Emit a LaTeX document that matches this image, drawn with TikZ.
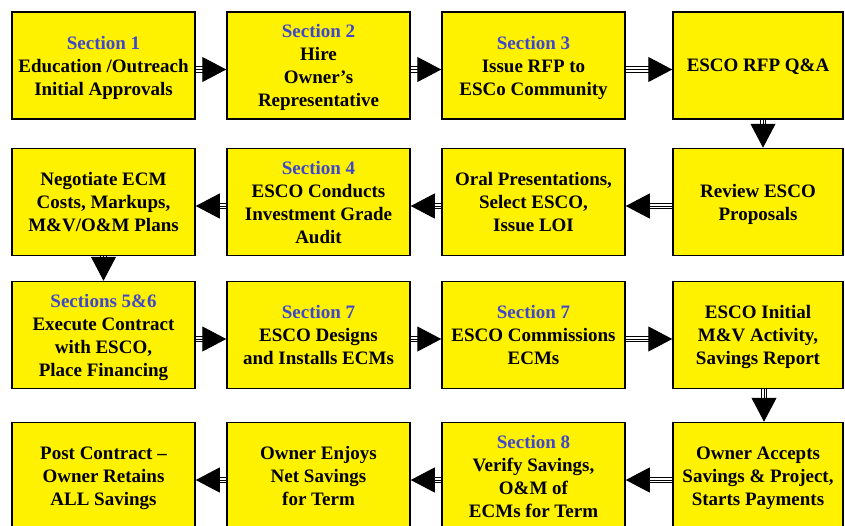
\documentclass[tikz,border=0pt]{standalone}
\usepackage{fontspec}
\setmainfont{Liberation Serif}
\usepackage{xcolor}
\usetikzlibrary{arrows.meta, calc}

\definecolor{secblue}{RGB}{63,72,204}

\tikzset{
  box/.style={draw=black, line width=1.5pt, fill=yellow, minimum width=183pt,
    minimum height=107pt, inner sep=0pt, align=center, text depth=0pt,
    font=\fontsize{19}{23}\selectfont\bfseries},
  narrow/.style={minimum width=170pt},
  shaft/.style={draw=black, double=white, double distance=4.4pt, line width=1pt, shorten >=18pt},
  tip/.style={draw=black, line width=1pt, -{Triangle[length=24pt,width=25pt]}}
}

\begin{document}
\begin{tikzpicture}[x=1pt, y=-1pt]
\useasboundingbox (0,0) rectangle (845,525);

% Row 1
\node[box] (edu) at (103.5,65.5) {\textcolor{secblue}{Section 1}\\Education /Outreach\\Initial Approvals};
\node[box] (hire) at (318.5,65.5) {\textcolor{secblue}{Section 2}\\Hire\\Owner’s\\Representative};
\node[box] (rfp) at (533.5,65.5) {\textcolor{secblue}{Section 3}\\Issue RFP to\\ESCo Community};
\node[box, narrow] (qna) at (758,65.5) {ESCO RFP Q\&A};

% Row 2
\node[box] (negotiate) at (103.5,202) {Negotiate ECM\\Costs, Markups,\\M\&V/O\&M Plans};
\node[box] (audit) at (318.5,202) {\textcolor{secblue}{Section 4}\\ESCO Conducts\\Investment Grade\\Audit};
\node[box] (oral) at (533.5,202) {Oral Presentations,\\Select ESCO,\\Issue LOI};
\node[box, narrow] (review) at (758,202) {Review ESCO\\Proposals};

% Row 3
\node[box] (execute) at (103.5,335) {\textcolor{secblue}{Sections 5\&6}\\Execute Contract\\with ESCO,\\Place Financing};
\node[box] (install) at (318.5,335) {\textcolor{secblue}{Section 7}\\ESCO Designs\\and Installs ECMs};
\node[box] (commission) at (533.5,335) {\textcolor{secblue}{Section 7}\\ESCO Commissions\\ECMs};
\node[box, narrow] (mv) at (758,335) {ESCO Initial\\M\&V Activity,\\Savings Report};

% Row 4
\node[box] (post) at (103.5,476) {Post Contract –\\Owner Retains\\ALL Savings};
\node[box] (enjoy) at (318.5,476) {Owner Enjoys\\Net Savings\\for Term};
\node[box] (verify) at (533.5,476) {\textcolor{secblue}{Section 8}\\Verify Savings,\\O\&M of\\ECMs for Term};
\node[box, narrow] (accept) at (758,476) {Owner Accepts\\Savings \& Project,\\Starts Payments};

% Arrows to the right
\foreach \a/\b in {edu/hire, hire/rfp, rfp/qna, execute/install, install/commission, commission/mv} {
  \draw[shaft] ([yshift=-4pt]\a.east) -- ([yshift=-4pt]\b.west);
  \draw[tip] ([yshift=-4pt]\a.east) -- ([yshift=-4pt]\b.west);
}

% Arrows to the left
\foreach \a/\b in {review/oral, oral/audit, audit/negotiate, accept/verify, verify/enjoy, enjoy/post} {
  \draw[shaft] ([yshift=-4pt]\a.west) -- ([yshift=-4pt]\b.east);
  \draw[tip] ([yshift=-4pt]\a.west) -- ([yshift=-4pt]\b.east);
}

% Arrows down
\foreach \a/\b/\dx in {qna/review/5pt, negotiate/execute/0pt, mv/accept/6pt} {
  \draw[shaft] ([xshift=\dx]\a.south) -- ([xshift=\dx]\b.north);
  \draw[tip] ([xshift=\dx]\a.south) -- ([xshift=\dx]\b.north);
}
\end{tikzpicture}
\end{document}
